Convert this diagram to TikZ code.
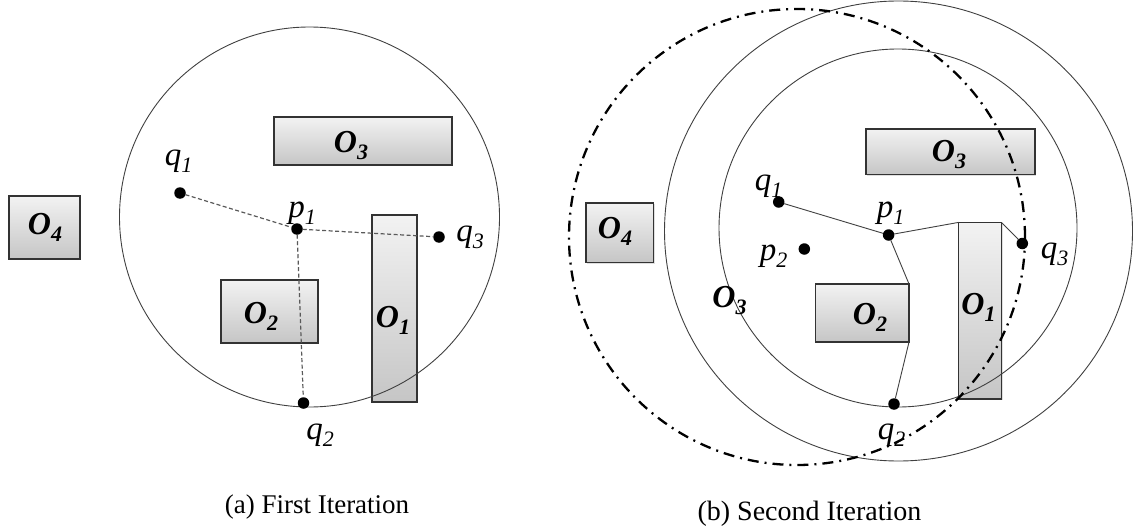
\documentclass[tikz,border=0pt]{standalone}
\usepackage{fontspec}
\setmainfont{Liberation Serif}
\usetikzlibrary{shadows}

% point and obstacle labels with a lowered index
\newcommand\qlab[2]{{\fontsize{33}{33}\selectfont\itshape #1}\raisebox{-7pt}{\fontsize{22}{22}\selectfont\itshape #2}}
\newcommand\olab[1]{{\fontsize{32}{32}\selectfont\bfseries\itshape O}\raisebox{-7pt}{\fontsize{22}{22}\selectfont\bfseries\itshape #1}}

\tikzset{
  obstacle/.style={draw=black!80, line width=1.1pt, top color=gray!10, bottom color=gray!45,
    inner sep=0pt, outer sep=0pt,
    drop shadow={opacity=0.25, shadow xshift=1.2pt, shadow yshift=-1.2pt}},
  dotpt/.style={circle, fill=black, inner sep=0pt, outer sep=0pt, minimum size=11.5pt},
  lbl/.style={inner sep=0pt, anchor=base},
  ring/.style={draw=black!75, line width=0.9pt},
  estring/.style={draw=black, line width=2.3pt, dash pattern=on 11pt off 6pt on 2pt off 6pt},
  trial/.style={draw=black!65, line width=1.2pt, dash pattern=on 4pt off 2.5pt},
  hop/.style={draw=black!75, line width=0.9pt},
  captext/.style={inner sep=0pt, anchor=base}
}

\begin{document}
\begin{tikzpicture}[x=1pt, y=-1pt]
\useasboundingbox (0,0) rectangle (1134,532);

% ---------------- (a) first iteration ----------------
\node[obstacle, minimum width=178pt, minimum height=48pt] (a-o3) at (363,141) {};
\node[obstacle, minimum width=71pt,  minimum height=63pt] (a-o4) at (44.5,227.5) {};
\node[obstacle, minimum width=97pt,  minimum height=63pt] (a-o2) at (269.5,311.5) {};
\node[obstacle, minimum width=45pt,  minimum height=187pt] (a-o1) at (394.5,308.5) {};

\coordinate (a-c) at (309.5,217);
\draw[ring] (a-c) circle[radius=190pt];

\node[dotpt] (a-q1) at (180,193) {};
\node[dotpt] (a-p1) at (297,229) {};
\node[dotpt] (a-q3) at (439,237) {};
\node[dotpt] (a-q2) at (303.5,403) {};

\draw[trial] (a-q1) -- (a-p1);
\draw[trial] (a-p1) -- (a-q3);
\draw[trial] (a-p1) -- (a-q2);

\node[lbl] (a-q1l) at (178.5,165) {\qlab{q}{1}};
\node[lbl] (a-p1l) at (302,217) {\qlab{p}{1}};
\node[lbl] (a-q3l) at (470,241) {\qlab{q}{3}};
\node[lbl] (a-q2l) at (320,439) {\qlab{q}{2}};

\node[lbl] (a-o3l) at (351,152) {\olab{3}};
\node[lbl] (a-o4l) at (45,234) {\olab{4}};
\node[lbl] (a-o2l) at (261,323) {\olab{2}};
\node[lbl] (a-o1l) at (393,327) {\olab{1}};

\node[captext, font=\fontsize{27}{27}\selectfont] (a-cap) at (317,513) {(a) First Iteration};

% ---------------- (b) second iteration ----------------
\node[obstacle, minimum width=169pt, minimum height=45.5pt] (b-o3) at (950.5,151.75) {};
\node[obstacle, minimum width=67.4pt, minimum height=59.5pt] (b-o4) at (619.7,232.75) {};
\node[obstacle, minimum width=93.3pt, minimum height=58pt]   (b-o2) at (862.35,313) {};
\node[obstacle, minimum width=43pt,   minimum height=176.6pt] (b-o1) at (980,310.7) {};

\coordinate (b-co) at (898.5,231);
\coordinate (b-ci) at (898,228);
\coordinate (b-cd) at (797,237);
\draw[ring] (b-co) ellipse[x radius=234pt, y radius=230pt];
\draw[ring] (b-ci) circle[radius=179pt];
\draw[estring] (b-cd) circle[radius=228pt];

\node[dotpt] (b-q1) at (778.7,202) {};
\node[dotpt] (b-p1) at (888.6,235) {};
\node[dotpt] (b-p2) at (804.3,249) {};
\node[dotpt] (b-q3) at (1022.3,243.5) {};
\node[dotpt] (b-q2) at (894,404) {};

\draw[hop] (b-q1) -- (b-p1);
\draw[hop] (b-p1) -- (b-o1.north west);
\draw[hop] (b-o1.north east) -- (b-q3);
\draw[hop] (b-p1) -- (b-o2.north east);
\draw[hop] (b-o2.south east) -- (b-q2);

\node[lbl] (b-q1l) at (768.5,190) {\qlab{q}{1}};
\node[lbl] (b-p1l) at (890.5,217) {\qlab{p}{1}};
\node[lbl] (b-p2l) at (773.5,260) {\qlab{p}{2}};
\node[lbl] (b-q3l) at (1054.5,258) {\qlab{q}{3}};
\node[lbl] (b-q2l) at (891.5,439) {\qlab{q}{2}};

\node[lbl] (b-o3l) at (949,161) {\olab{3}};
\node[lbl] (b-o4l) at (615,238) {\olab{4}};
\node[lbl] (b-o2l) at (870,324) {\olab{2}};
\node[lbl] (b-o1l) at (978.5,314) {\olab{1}};
\node[lbl] (b-o3r) at (729.5,307) {\olab{3}};

\node[captext, font=\fontsize{28}{28}\selectfont] (b-cap) at (809.5,520) {(b) Second Iteration};
\end{tikzpicture}
\end{document}
